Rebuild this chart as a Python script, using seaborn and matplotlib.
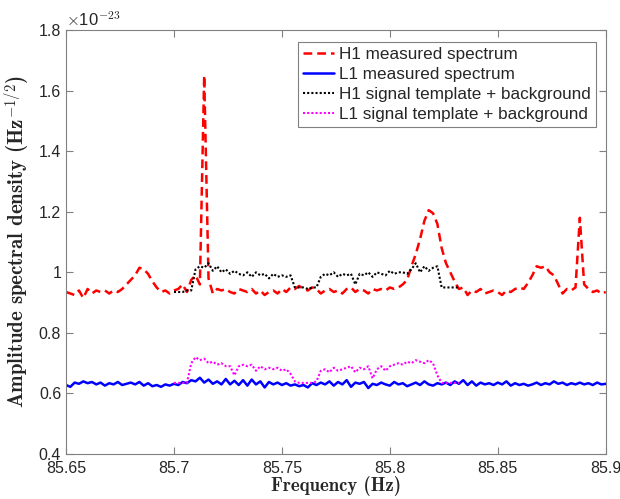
import numpy as np
import pandas as pd
import seaborn as sns
import matplotlib.pyplot as plt
from matplotlib.ticker import FuncFormatter, MultipleLocator

# H1 / L1 amplitude spectral density (units of 1e-23 Hz^-1/2), 0.002 Hz grid from 85.65 to 85.90
h1_asd = [0.935, 0.930, 0.925, 0.940, 0.915, 0.945, 0.930, 0.940, 0.935, 0.940,
          0.930, 0.940, 0.935, 0.945, 0.960, 0.975, 0.990, 1.015, 1.010, 0.995,
          0.970, 0.950, 0.935, 0.940, 0.930, 0.940, 0.945, 0.960, 0.935, 0.975,
          0.990, 0.960, 1.650, 0.980, 0.930, 0.945, 0.940, 0.945, 0.935, 0.930,
          0.945, 0.940, 0.935, 0.945, 0.930, 0.940, 0.925, 0.935, 0.940, 0.930,
          0.945, 0.935, 0.950, 0.945, 0.955, 0.945, 0.940, 0.950, 0.945, 0.930,
          0.940, 0.945, 0.935, 0.940, 0.930, 0.945, 0.950, 0.935, 0.945, 0.940,
          0.930, 0.945, 0.940, 0.945, 0.940, 0.950, 0.945, 0.950, 0.960, 0.975,
          1.020, 1.060, 1.110, 1.170, 1.205, 1.195, 1.160, 1.080, 1.030, 1.000,
          0.970, 0.945, 0.950, 0.925, 0.940, 0.935, 0.945, 0.930, 0.935, 0.940,
          0.935, 0.925, 0.940, 0.935, 0.945, 0.950, 0.945, 0.965, 0.990, 1.020,
          1.015, 1.020, 1.000, 0.990, 0.960, 0.930, 0.945, 0.940, 0.950, 1.180,
          0.960, 0.945, 0.935, 0.940, 0.930, 0.935]

l1_asd = [0.628, 0.622, 0.636, 0.632, 0.640, 0.634, 0.638, 0.630, 0.636, 0.626,
          0.634, 0.630, 0.638, 0.628, 0.632, 0.636, 0.630, 0.638, 0.626, 0.634,
          0.624, 0.628, 0.622, 0.630, 0.626, 0.632, 0.628, 0.638, 0.634, 0.644,
          0.640, 0.652, 0.636, 0.646, 0.632, 0.640, 0.630, 0.648, 0.630, 0.642,
          0.628, 0.644, 0.626, 0.646, 0.630, 0.640, 0.620, 0.638, 0.630, 0.636,
          0.628, 0.634, 0.626, 0.630, 0.624, 0.628, 0.620, 0.634, 0.628, 0.636,
          0.630, 0.640, 0.626, 0.638, 0.630, 0.644, 0.622, 0.636, 0.632, 0.638,
          0.618, 0.632, 0.628, 0.636, 0.630, 0.626, 0.638, 0.630, 0.634, 0.624,
          0.630, 0.636, 0.628, 0.640, 0.630, 0.626, 0.634, 0.630, 0.636, 0.628,
          0.640, 0.632, 0.644, 0.628, 0.640, 0.626, 0.636, 0.630, 0.634, 0.628,
          0.636, 0.630, 0.640, 0.626, 0.634, 0.628, 0.632, 0.626, 0.630, 0.636,
          0.628, 0.634, 0.630, 0.640, 0.632, 0.636, 0.628, 0.634, 0.630, 0.636,
          0.630, 0.634, 0.628, 0.636, 0.630, 0.632]

# signal template + background, 0.002 Hz grid from 85.700 to 85.832
h1_template = [0.935, 0.935, 0.935, 0.940, 0.940, 1.010, 1.020, 1.015, 1.030, 1.005,
               1.020, 1.000, 1.010, 0.995, 1.005, 0.995, 0.990, 1.000, 0.985, 1.000,
               0.990, 0.995, 0.980, 0.995, 0.985, 0.990, 0.985, 0.990, 0.950, 0.950,
               0.950, 0.945, 0.950, 0.950, 0.985, 0.995, 0.990, 1.000, 0.985, 0.995,
               0.990, 0.995, 0.960, 0.995, 0.990, 1.000, 0.985, 1.000, 0.995, 0.990,
               1.005, 0.995, 1.000, 1.000, 0.995, 1.010, 1.030, 1.000, 1.020, 1.005,
               1.015, 1.020, 0.950, 0.950, 0.950, 0.950, 0.950]

l1_template = [0.635, 0.635, 0.635, 0.635, 0.700, 0.720, 0.710, 0.715, 0.700, 0.705,
               0.695, 0.700, 0.690, 0.690, 0.660, 0.690, 0.695, 0.690, 0.695, 0.675,
               0.690, 0.680, 0.685, 0.680, 0.685, 0.675, 0.680, 0.665, 0.640, 0.635,
               0.635, 0.635, 0.635, 0.640, 0.675, 0.680, 0.670, 0.685, 0.675, 0.680,
               0.685, 0.690, 0.670, 0.685, 0.680, 0.690, 0.650, 0.680, 0.690, 0.675,
               0.690, 0.695, 0.700, 0.695, 0.705, 0.700, 0.710, 0.705, 0.700, 0.710,
               0.700, 0.660, 0.635, 0.635, 0.635, 0.635, 0.635]

freq = np.linspace(85.65, 85.90, len(h1_asd))
freq_tmpl = np.linspace(85.70, 85.832, len(h1_template))
scale = 1e-23

sns.set_style("ticks")
plt.rcParams['font.family'] = ['Liberation Sans', 'DejaVu Sans']
plt.rcParams['mathtext.fontset'] = 'cm'

fig = plt.figure(figsize=(6.2, 4.99), dpi=100)
ax = fig.add_axes([0.1065, 0.09, 0.8705, 0.85])

sns.lineplot(x=freq, y=np.array(h1_asd) * scale, ax=ax, color='#ff0000',
             linestyle=(0, (3.5, 2)), linewidth=1.8, label='H1 measured spectrum')
sns.lineplot(x=freq, y=np.array(l1_asd) * scale, ax=ax, color='#0000ff',
             linestyle='-', linewidth=1.8, label='L1 measured spectrum')
sns.lineplot(x=freq_tmpl, y=np.array(h1_template) * scale, ax=ax, color='black',
             linestyle=(0, (1, 1)), linewidth=1.5, label='H1 signal template + background')
sns.lineplot(x=freq_tmpl, y=np.array(l1_template) * scale, ax=ax, color='#ff00ff',
             linestyle=(0, (1, 1)), linewidth=1.5, label='L1 signal template + background')

ax.set_xlim(85.65, 85.90)
ax.set_ylim(0.4e-23, 1.8e-23)
ax.xaxis.set_major_locator(MultipleLocator(0.05))
ax.yaxis.set_major_locator(MultipleLocator(0.2e-23))
ax.xaxis.set_major_formatter(FuncFormatter(lambda v, p: f"{v:g}"))
ax.yaxis.set_major_formatter(FuncFormatter(lambda v, p: f"{round(v / scale, 2):g}"))
ax.tick_params(direction='in', top=True, right=True, length=5, width=0.8,
               colors='#808080', labelcolor='#262626', labelsize=11.5)
ax.tick_params(axis='x', pad=5)
for s in ax.spines.values():
    s.set_color('#808080')
    s.set_linewidth(0.8)

ax.text(0.0, 1.003, r'$\times$10$^{-23}$', transform=ax.transAxes, fontsize=12,
        color='#262626', ha='left', va='bottom')

ax.set_xlabel('Frequency (Hz)', family='cmb10', fontsize=13.5, color='#262626', labelpad=0)
ax.set_ylabel(r'Amplitude spectral density (Hz$^{-1/2}$)', family='cmb10', fontsize=15,
              color='#262626', labelpad=5)

leg = ax.legend(loc='upper right', bbox_to_anchor=(0.982, 0.972), fontsize=12.3,
                handlelength=1.8, handletextpad=0.3, borderpad=0.3, labelspacing=0.3,
                fancybox=False, framealpha=1, edgecolor='#808080', borderaxespad=0)
leg.get_frame().set_linewidth(0.8)

fig.savefig('out.png', dpi=100)
